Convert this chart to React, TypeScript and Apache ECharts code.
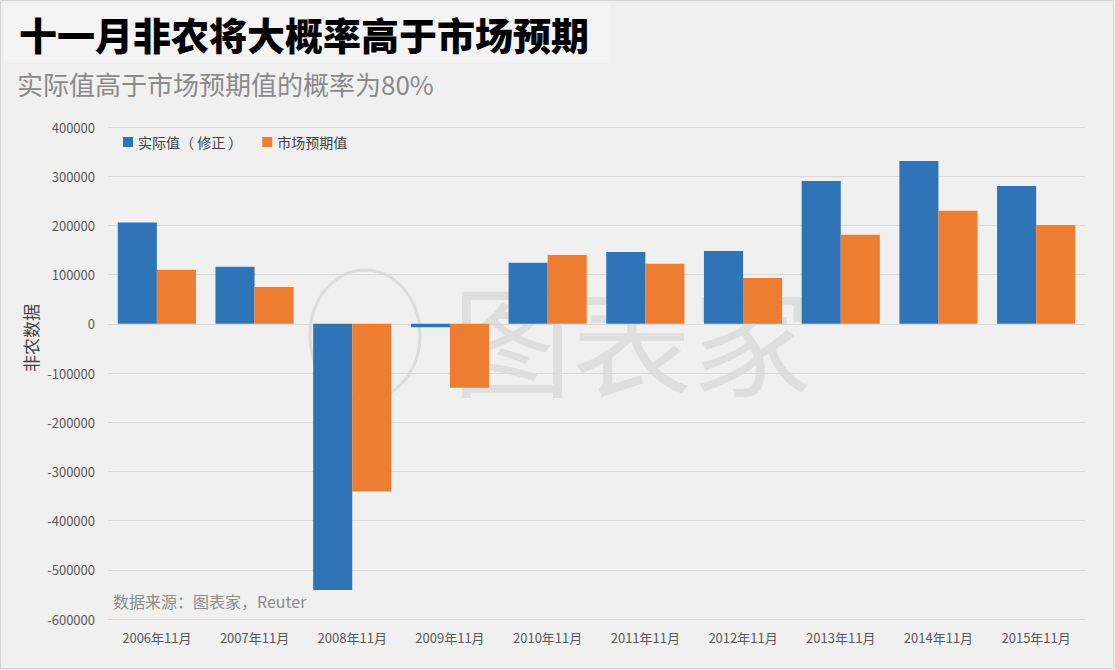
import React, { useEffect, useRef } from "react";
import * as echarts from "echarts";

const categories = [
  "2006年11月", "2007年11月", "2008年11月", "2009年11月", "2010年11月",
  "2011年11月", "2012年11月", "2013年11月", "2014年11月", "2015年11月",
];
const actualValues = [206000, 116000, -541000, -7000, 124000, 146000, 148000, 290000, 331000, 280000];
const expectedValues = [110000, 75000, -341000, -130000, 140000, 122000, 93000, 181000, 230000, 201000];
const seriesNames = ["实际值（ 修正 ）", "市场预期值"];

const titleText = "十一月非农将大概率高于市场预期";
const subtitleText = "实际值高于市场预期值的概率为80%";
const sourceText = "数据来源：图表家，Reuter";
const yAxisName = "非农数据";
const watermarkText = "图表家";

export default function App() {
  const ref = useRef<HTMLDivElement>(null);
  useEffect(() => {
    if (!ref.current) return;
    const chart = echarts.init(ref.current, null, { renderer: "svg" });
    const font = '"Noto Sans CJK SC", "Microsoft YaHei", sans-serif';
    chart.setOption({
      animation: false,
      backgroundColor: "#f0f0f0",
      textStyle: { fontFamily: font },
      grid: { left: 108, right: 30, top: 127, bottom: 51, containLabel: false },
      legend: {
        left: 118,
        top: 130,
        itemWidth: 10,
        itemHeight: 10,
        itemGap: 20,
        icon: "rect",
        textStyle: { fontSize: 14, color: "#404040", fontFamily: font },
        data: seriesNames,
      },
      xAxis: {
        type: "category",
        data: categories,
        axisLine: { show: false, onZero: false },
        axisTick: { show: false },
        axisLabel: { fontSize: 13, color: "#595959", margin: 12 },
      },
      yAxis: {
        type: "value",
        min: -600000,
        max: 400000,
        interval: 100000,
        axisLine: { show: false },
        axisTick: { show: false },
        axisLabel: {
          fontSize: 13,
          color: "#595959",
          margin: 13,
          formatter: (v: number) => String(v),
        },
        splitLine: { lineStyle: { color: "#d9d9d9", width: 1 } },
      },
      series: [
        {
          name: seriesNames[0],
          type: "bar",
          data: actualValues,
          barWidth: "40%",
          barGap: "0%",
          itemStyle: { color: "#2e74b6" },
          z: 3,
        },
        {
          name: seriesNames[1],
          type: "bar",
          data: expectedValues,
          barWidth: "40%",
          barGap: "0%",
          itemStyle: { color: "#ed7d31" },
          z: 3,
        },
      ],
      graphic: [
        {
          type: "rect",
          z: -10,
          shape: { x: 0.5, y: 0.5, width: 1113, height: 668 },
          style: { fill: "none", stroke: "#d4d4d4", lineWidth: 1 },
        },
        {
          type: "rect",
          z: -9,
          shape: { x: 4, y: 5, width: 606, height: 58 },
          style: { fill: "#f4f4f4" },
        },
        {
          type: "text",
          left: 19,
          top: 14,
          style: { text: titleText, fontSize: 38, fontWeight: 900, fill: "#000000", fontFamily: font },
        },
        {
          type: "text",
          left: 17,
          top: 70,
          style: { text: subtitleText, fontSize: 26, fill: "#8a8a8a", fontFamily: font },
        },
        {
          type: "text",
          x: 30,
          y: 338,
          rotation: Math.PI / 2,
          style: {
            text: yAxisName,
            fontSize: 17,
            fill: "#404040",
            align: "center",
            verticalAlign: "middle",
            fontFamily: font,
          },
        },
        {
          type: "text",
          left: 113,
          top: 593,
          style: { text: sourceText, fontSize: 16, fill: "#8c8c8c", fontFamily: font },
        },
        {
          type: "ellipse",
          z: -5,
          shape: { cx: 365, cy: 335, rx: 55, ry: 65 },
          style: { fill: "none", stroke: "#dcdcdc", lineWidth: 3 },
        },
        {
          type: "text",
          z: -5,
          left: 452,
          top: 276,
          style: { text: watermarkText, fontSize: 120, fill: "#dedede", fontFamily: font },
        },
      ],
    });
    return () => chart.dispose();
  }, []);
  return (
    <div
      ref={ref}
      style={{ position: "fixed", left: 0, top: 0, width: 1115, height: 670 }}
    />
  );
}
